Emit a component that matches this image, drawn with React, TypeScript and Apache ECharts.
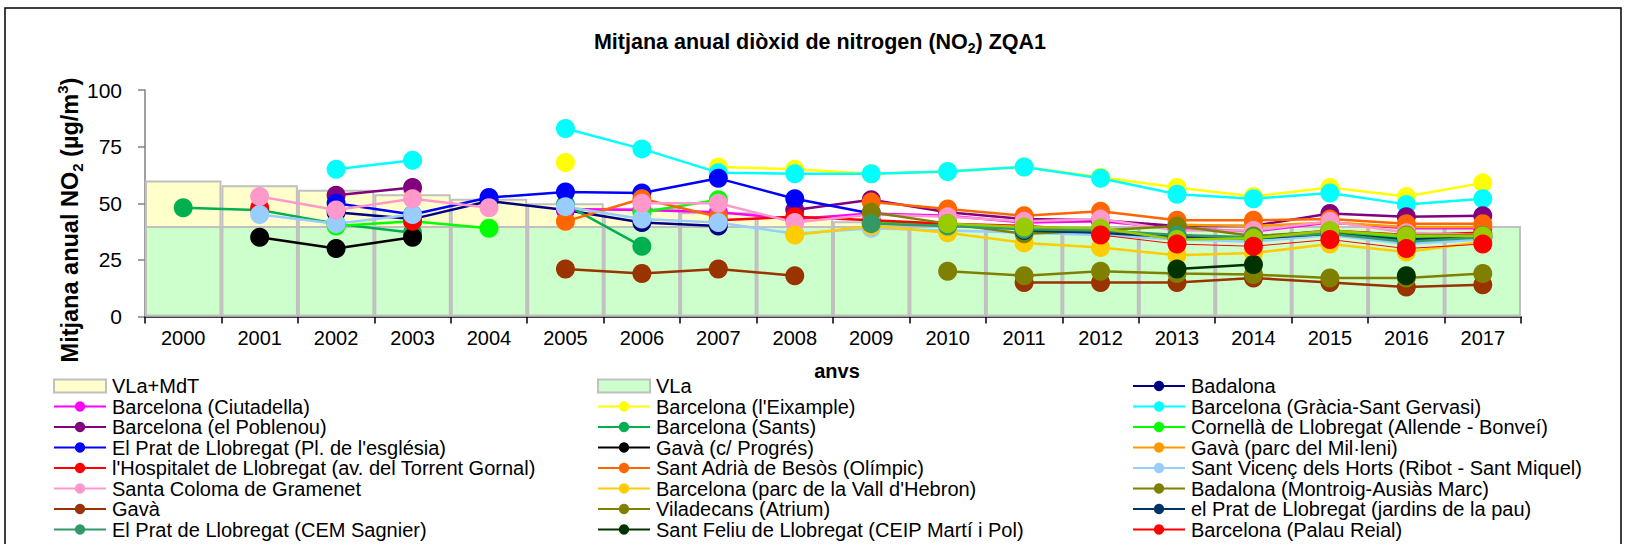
import React, { useEffect, useRef } from 'react';
import * as echarts from 'echarts';

const years = ['2000', '2001', '2002', '2003', '2004', '2005', '2006', '2007', '2008', '2009', '2010', '2011', '2012', '2013', '2014', '2015', '2016', '2017'];
const yTicks = [0, 25, 50, 75, 100];

const n = null;
const vlaMdt = [60, 58, 56, 54, 52, 50, 48, 46, 44, 42, 40, 40, 40, 40, 40, 40, 40, 40];
const vla = [40, 40, 40, 40, 40, 40, 40, 40, 40, 40, 40, 40, 40, 40, 40, 40, 40, 40];

const badalona = [n, n, 46, 43, 51, 47, 41.5, 40, n, n, n, n, n, n, n, n, n, n];
const ciutadella = [n, n, n, n, n, 47.5, 47, 46, 43, 45.5, 44.5, 41.5, 42, 39, 37.5, 41.5, 39, 39];
const eixample = [n, n, n, 55, n, 68, n, 66, 65, 63, 64, 66, 61.5, 57, 53, 57, 53, 59];
const gracia = [n, n, 65, 69, n, 83, 74, 63.5, 63, 63, 64, 66, 61, 54, 52, 54.5, 49.5, 52];
const poblenou = [n, n, 53.5, 57, n, n, n, n, 47, 51.5, 46, 43, 42.5, 40, 40, 45.5, 44, 44.5];
const sants = [48, 47, 41, 37, n, 49.5, 31, n, n, n, n, n, n, n, n, n, n, n];
const cornella = [n, n, 40, 42, 39, n, 46, 51.5, n, 41.5, 40.5, 39.5, 38.5, 35, 34, 37, 35, 35];
const pratEsglesia = [n, n, 50, 45, 52.5, 55, 54.5, 61, 52, 45.5, n, n, n, n, n, n, n, n];
const gavaProgres = [n, 35, 30, 35, n, n, n, n, n, n, n, n, n, n, n, n, n, n];
const gavaMilleni = [n, n, n, n, n, n, n, n, n, n, n, n, n, 40.5, 40, 41.5, 39.5, 39.5];
const hospitalet = [n, 48, n, 42, n, n, n, 42.5, 44, 42.5, 41, 40, 38, 35, 35, 38, 36, 37];
const santAdria = [n, n, n, n, n, 42, 52, 44, n, 50.5, 47.5, 44.5, 46.5, 42.5, 42.5, 43, 41, 41];
const santVicenc = [n, 45, 41, 45, n, 48.5, 43, 41.5, 36.5, 39, 38, 37, 36, 34, 33, 36, 32, 34];
const santaColoma = [n, 53, 47, 52, 48, n, 50, 50, 41.5, 45, 44, 42, 43, 38, 38, 42, 37, 36];
const vallHebron = [n, n, n, n, n, n, n, n, 36, 40, 37, 32.5, 30.5, 27, 28, 32, 28.5, 33];
const badalonaMontroig = [n, n, n, n, n, n, n, n, n, 46, 41, 36.5, 38, 40, 35.5, 37.5, 36, 36];
const gava = [n, n, n, n, n, 21, 19, 21, 18, n, n, 15, 15, 15, 17, 15, 13, 14];
const viladecans = [n, n, n, n, n, n, n, n, n, n, 20, 18, 20, 19, 18.5, 17, 17, 19];
const pratJardins = [n, n, n, n, n, n, n, n, n, n, n, 38, 37, 35, 34.5, 36.5, 34, 35];
const cemSagnier = [n, n, n, n, n, n, n, n, n, 41, 40, 38.5, 38, 36, 35, 36.5, 33, 35];
const santFeliu = [n, n, n, n, n, n, n, n, n, n, n, n, n, 21, 23, n, 18, n];
const extraSeries = [n, n, n, n, n, n, n, n, n, n, 41, 39.5, 39, 34, 34.5, 38, 35.5, 35.5];
const palauReial = [n, n, n, n, n, n, n, n, n, n, n, n, 36, 32, 31, 34, 30, 32];

const stations = [
  { name: 'Badalona', color: '#000080', data: badalona },
  { name: 'Barcelona (Ciutadella)', color: '#FF00FF', data: ciutadella },
  { name: "Barcelona (l'Eixample)", color: '#FFFF00', data: eixample },
  { name: 'Barcelona (Gràcia-Sant Gervasi)', color: '#00FFFF', data: gracia },
  { name: 'Barcelona (el Poblenou)', color: '#800080', data: poblenou },
  { name: 'Barcelona (Sants)', color: '#00B050', data: sants },
  { name: 'Cornellà de Llobregat (Allende - Bonveí)', color: '#00FF00', data: cornella },
  { name: "El Prat de Llobregat (Pl. de l'església)", color: '#0000FF', data: pratEsglesia },
  { name: 'Gavà (c/ Progrés)', color: '#000000', data: gavaProgres },
  { name: 'Gavà (parc del Mil·leni)', color: '#FF9900', data: gavaMilleni },
  { name: "l'Hospitalet de Llobregat (av. del Torrent Gornal)", color: '#FF0000', data: hospitalet },
  { name: 'Sant Adrià de Besòs (Olímpic)', color: '#FF6600', data: santAdria },
  { name: 'Sant Vicenç dels Horts (Ribot - Sant Miquel)', color: '#99CCFF', data: santVicenc },
  { name: 'Santa Coloma de Gramenet', color: '#FF99CC', data: santaColoma },
  { name: "Barcelona (parc de la Vall d'Hebron)", color: '#FFCC00', data: vallHebron },
  { name: 'Badalona (Montroig-Ausiàs Marc)', color: '#808000', data: badalonaMontroig },
  { name: 'Gavà', color: '#993300', data: gava },
  { name: 'Viladecans (Atrium)', color: '#808000', data: viladecans },
  { name: 'el Prat de Llobregat (jardins de la pau)', color: '#003366', data: pratJardins },
  { name: 'El Prat de Llobregat (CEM Sagnier)', color: '#339966', data: cemSagnier },
  { name: 'Sant Feliu de Llobregat (CEIP Martí i Pol)', color: '#003300', data: santFeliu },
  { name: 'Estació addicional', color: '#99CC00', data: extraSeries },
  { name: 'Barcelona (Palau Reial)', color: '#FF0000', data: palauReial, thin: true },
];

const legendCol1 = [
  { name: 'VLa+MdT', icon: 'rect' },
  'Barcelona (Ciutadella)',
  'Barcelona (el Poblenou)',
  "El Prat de Llobregat (Pl. de l'església)",
  "l'Hospitalet de Llobregat (av. del Torrent Gornal)",
  'Santa Coloma de Gramenet',
  'Gavà',
  'El Prat de Llobregat (CEM Sagnier)',
];
const legendCol2 = [
  { name: 'VLa', icon: 'rect' },
  "Barcelona (l'Eixample)",
  'Barcelona (Sants)',
  'Gavà (c/ Progrés)',
  'Sant Adrià de Besòs (Olímpic)',
  "Barcelona (parc de la Vall d'Hebron)",
  'Viladecans (Atrium)',
  'Sant Feliu de Llobregat (CEIP Martí i Pol)',
];
const legendCol3 = [
  'Badalona',
  'Barcelona (Gràcia-Sant Gervasi)',
  'Cornellà de Llobregat (Allende - Bonveí)',
  'Gavà (parc del Mil·leni)',
  'Sant Vicenç dels Horts (Ribot - Sant Miquel)',
  'Badalona (Montroig-Ausiàs Marc)',
  'el Prat de Llobregat (jardins de la pau)',
  'Barcelona (Palau Reial)',
];

const FONT = "'Liberation Sans', Arial, sans-serif";

function makeLegend(left: number, data: any[]) {
  return {
    orient: 'vertical',
    left,
    top: 376,
    height: 320,
    padding: 0,
    itemWidth: 52,
    itemHeight: 13,
    itemGap: 0.5,
    selectedMode: false,
    data,
    textStyle: { fontFamily: FONT, fontSize: 20, color: '#000', padding: [0, 0, 0, 1] },
  };
}

export default function App() {
  const ref = useRef<HTMLDivElement>(null);
  useEffect(() => {
    const chart = echarts.init(ref.current!, null, { renderer: 'svg' });
    const series: any[] = [
      {
        name: 'VLa+MdT',
        type: 'bar',
        data: vlaMdt,
        barWidth: '100%',
        barGap: '-100%',
        itemStyle: { color: '#FFFFCC', borderColor: '#C0C0C0', borderWidth: 2 },
        z: 1,
        silent: true,
      },
      {
        name: 'VLa',
        type: 'bar',
        data: vla,
        barWidth: '100%',
        barGap: '-100%',
        itemStyle: { color: '#CCFFCC', borderColor: '#C0C0C0', borderWidth: 2 },
        z: 1,
        silent: true,
      },
      ...stations.map((s) => ({
        name: s.name,
        type: 'line',
        data: s.data,
        symbol: 'circle',
        symbolSize: 19,
        showAllSymbol: true,
        connectNulls: false,
        lineStyle: { color: s.color, width: s.thin ? 1 : 2.5 },
        itemStyle: { color: s.color },
        emphasis: { disabled: true },
        z: 3,
      })),
    ];
    chart.setOption({
      animation: false,
      backgroundColor: '#fff',
      grid: { left: 145, right: 108, top: 90, bottom: 227.5 },
      xAxis: {
        type: 'category',
        data: years,
        boundaryGap: true,
        axisLine: { lineStyle: { color: '#000', width: 1.5 } },
        axisTick: { show: true, length: 7, lineStyle: { color: '#000', width: 1.5 } },
        axisLabel: { fontFamily: FONT, fontSize: 20, color: '#000', margin: 11, interval: 0 },
        splitLine: { show: false },
      },
      yAxis: {
        type: 'value',
        min: 0,
        max: 100,
        interval: 25,
        axisLine: { show: true, lineStyle: { color: '#808080', width: 1.5 } },
        axisTick: { show: true, length: 7, lineStyle: { color: '#808080', width: 1.5 } },
        axisLabel: { fontFamily: FONT, fontSize: 21, color: '#000', margin: 23,
          formatter: (v: number) => (yTicks.includes(v) ? String(v) : '') },
        splitLine: { show: false },
      },
      legend: [makeLegend(53, legendCol1), makeLegend(597, legendCol2), makeLegend(1132, legendCol3)],
      graphic: [
        {
          type: 'rect',
          shape: { x: 5, y: 8, width: 1616, height: 560 },
          style: { fill: 'none', stroke: '#000', lineWidth: 1.5 },
          silent: true,
          z: -1,
        },
        {
          type: 'text',
          x: 820,
          y: 42,
          style: {
            text: '{b|Mitjana anual diòxid de nitrogen (NO}{s|2}{b|) ZQA1}',
            align: 'center',
            verticalAlign: 'middle',
            rich: {
              b: { fontFamily: FONT, fontSize: 21.5, fontWeight: 'bold', fill: '#000', lineHeight: 26, verticalAlign: 'middle' },
              s: { fontFamily: FONT, fontSize: 14, fontWeight: 'bold', fill: '#000', lineHeight: 26, verticalAlign: 'bottom' },
            },
          },
        },
        {
          type: 'text',
          x: 70,
          y: 220,
          rotation: Math.PI / 2,
          style: {
            text: '{b|Mitjana anual NO}{s|2}{b| (µg/m}{p|3}{b|)}',
            align: 'center',
            verticalAlign: 'middle',
            rich: {
              b: { fontFamily: FONT, fontSize: 23.5, fontWeight: 'bold', fill: '#000', lineHeight: 30, verticalAlign: 'middle' },
              s: { fontFamily: FONT, fontSize: 15, fontWeight: 'bold', fill: '#000', lineHeight: 30, verticalAlign: 'bottom' },
              p: { fontFamily: FONT, fontSize: 15, fontWeight: 'bold', fill: '#000', lineHeight: 30, verticalAlign: 'top' },
            },
          },
        },
        {
          type: 'text',
          x: 837,
          y: 371,
          style: {
            text: 'anvs',
            align: 'center',
            verticalAlign: 'middle',
            fontFamily: FONT,
            fontSize: 20,
            fontWeight: 'bold',
            fill: '#000',
          },
        },
      ],
      series,
    });
    return () => chart.dispose();
  }, []);
  return (
    <div
      ref={ref}
      style={{ position: 'fixed', left: 0, top: 0, width: 1629, height: 544, background: '#fff' }}
    />
  );
}
